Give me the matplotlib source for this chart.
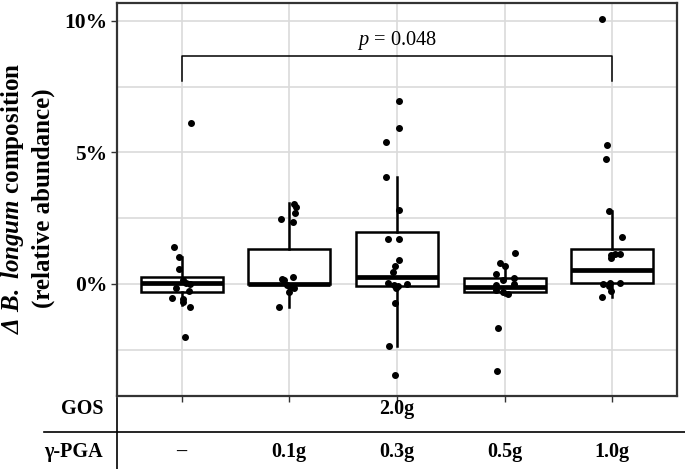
import numpy as np
import matplotlib
matplotlib.use('Agg')
import matplotlib.pyplot as plt
from matplotlib import rcParams
from matplotlib.lines import Line2D
from matplotlib import transforms

rcParams.update({
    'font.family': 'Liberation Serif',
    'mathtext.fontset': 'custom',
    'mathtext.rm': 'Liberation Serif',
    'mathtext.it': 'Liberation Serif:italic',
    'mathtext.bf': 'Liberation Serif:bold',
    'mathtext.bfit': 'Liberation Serif:italic:bold',
})

# ---- data (percent change in relative abundance) ---------------------------
groups = ['–', '0.1g', '0.3g', '0.5g', '1.0g']

pts_1 = [6.13, 1.39, 1.01, 0.56, 0.15, 0.05, 0.00, -0.16, -0.27, -0.52,
         -0.58, -0.67, -0.86, -2.00]
jit_1 = [0.09, -0.07, -0.02, -0.02, 0.01, 0.04, 0.08, -0.05, 0.07, -0.09,
         0.01, 0.01, 0.08, 0.03]
pts_2 = [3.04, 2.94, 2.69, 2.46, 2.36, 0.20, 0.25, 0.15, -0.04, -0.10,
         -0.16, -0.29, -0.86]
jit_2 = [0.04, 0.06, 0.05, -0.08, 0.03, -0.07, 0.03, -0.05, -0.02, 0.01,
         0.04, 0.00, -0.10]
pts_3 = [6.97, 5.92, 5.39, 4.08, 2.81, 1.71, 1.71, 0.90, 0.70, 0.47, 0.03,
         -0.04, -0.08, 0.00, -0.16, -0.73, -2.36, -3.46]
jit_3 = [0.02, 0.02, -0.10, -0.10, 0.02, -0.08, 0.02, 0.02, -0.02, -0.04,
         -0.08, -0.03, 0.01, 0.09, -0.01, -0.02, -0.07, -0.02]
pts_4 = [1.17, 0.79, 0.70, 0.37, 0.24, 0.15, 0.00, -0.04, -0.23, -0.32,
         -0.38, -1.69, -3.31]
jit_4 = [0.10, -0.04, 0.00, -0.08, 0.09, -0.02, 0.09, -0.08, -0.08, -0.02,
         0.03, -0.06, -0.07]
pts_5 = [10.06, 5.29, 4.76, 2.79, 1.78, 1.10, 1.14, 1.12, 0.98, -0.01,
         -0.06, 0.03, 0.03, -0.25, -0.48]
jit_5 = [-0.10, -0.05, -0.06, -0.03, 0.09, -0.01, 0.02, 0.07, -0.01, -0.09,
         -0.03, -0.02, 0.07, -0.01, -0.10]

# box summaries: median, q1, q3, lower / upper whisker
med = [0.03, 0.01, 0.25, -0.12, 0.53]
q1 = [-0.29, -0.02, -0.06, -0.29, 0.03]
q3 = [0.28, 1.32, 1.99, 0.24, 1.32]
whis_lo = [-0.80, -0.86, -2.36, -0.42, -0.48]
whis_hi = [1.01, 3.07, 4.08, 0.72, 2.79]

p_label = '0.048'
bracket_y, bracket_drop = 8.65, 7.73

points = [pts_1, pts_2, pts_3, pts_4, pts_5]
jitter = [jit_1, jit_2, jit_3, jit_4, jit_5]

W, H = 685, 469
fig = plt.figure(figsize=(W / 100, H / 100), dpi=100)
ax = fig.add_axes([117 / W, 1 - 396 / H, (677 - 117) / W, (396 - 3) / H])

xs = np.arange(1, len(groups) + 1)
stats = [dict(med=m, q1=a, q3=b, whislo=lo, whishi=hi, fliers=[])
         for m, a, b, lo, hi in zip(med, q1, q3, whis_lo, whis_hi)]
ax.bxp(stats, positions=xs, widths=0.76, showcaps=False, patch_artist=True,
       boxprops=dict(facecolor='white', edgecolor='black', linewidth=1.8),
       whiskerprops=dict(color='black', linewidth=1.8),
       medianprops=dict(color='black', linewidth=3.4),
       zorder=2)

for x, vals, jit in zip(xs, points, jitter):
    ax.plot(x + np.array(jit), vals, 'o', color='black', ms=4.0,
            mec='black', zorder=3)

# significance bracket
ax.plot([xs[0], xs[0], xs[-1], xs[-1]],
        [bracket_drop, bracket_y, bracket_y, bracket_drop],
        color='black', lw=1.1, zorder=3)
ax.text(xs[2], 9.09, f'$p$ = {p_label}', ha='center', va='baseline',
        fontsize=14.7)

ax.set_xlim(0.4, 5.6)
ax.set_ylim(-4.26, 10.68)
ax.set_xticks(xs)
ax.set_xticklabels([])
ax.set_yticks([0, 5, 10])
ax.set_yticklabels(['0%', '5%', '10%'], fontweight='bold', fontsize=15.5)
ax.set_yticks([-2.5, 2.5, 7.5], minor=True)
ax.tick_params(axis='y', which='minor', length=0)
ax.tick_params(axis='both', which='major', length=4, width=1.0,
               color='#333333', pad=3)
ax.grid(True, which='both', color='#dadada', lw=1.2, zorder=0)
ax.set_axisbelow(True)
for s in ax.spines.values():
    s.set_linewidth(1.6)
    s.set_color('#333333')

# y label
fig.text(27 / W, 1 - 198 / H,
         '$\\mathbfit{Δ\\ B.\\ longum}$ composition\n(relative abundance)',
         rotation=90, ha='center', va='center', fontsize=18,
         fontweight='bold', linespacing=1.3)

# treatment table below the axis
row_gos, row_pga = 1 - 409 / H, 1 - 452 / H
tab_fs = 14.5
fig.text(103 / W, row_gos, 'GOS', ha='right', va='center', fontsize=tab_fs,
         fontweight='bold')
fig.text(103 / W, row_pga, 'γ-PGA', ha='right', va='center', fontsize=tab_fs,
         fontweight='bold')
blend = transforms.blended_transform_factory(ax.transData, fig.transFigure)
ax.text(xs[2], row_gos, '2.0g', transform=blend, ha='center', va='center',
        fontsize=tab_fs, fontweight='bold')
for x, g in zip(xs, groups):
    ax.text(x, row_pga, g, transform=blend, ha='center', va='center',
            fontsize=tab_fs, fontweight='bold')
fig.add_artist(Line2D([117 / W, 117 / W], [1 - 398 / H, 0],
                      color='black', lw=1.2))
fig.add_artist(Line2D([44 / W, 1], [1 - 432 / H, 1 - 432 / H],
                      color='black', lw=1.2))

fig.savefig('out.png', dpi=100)
